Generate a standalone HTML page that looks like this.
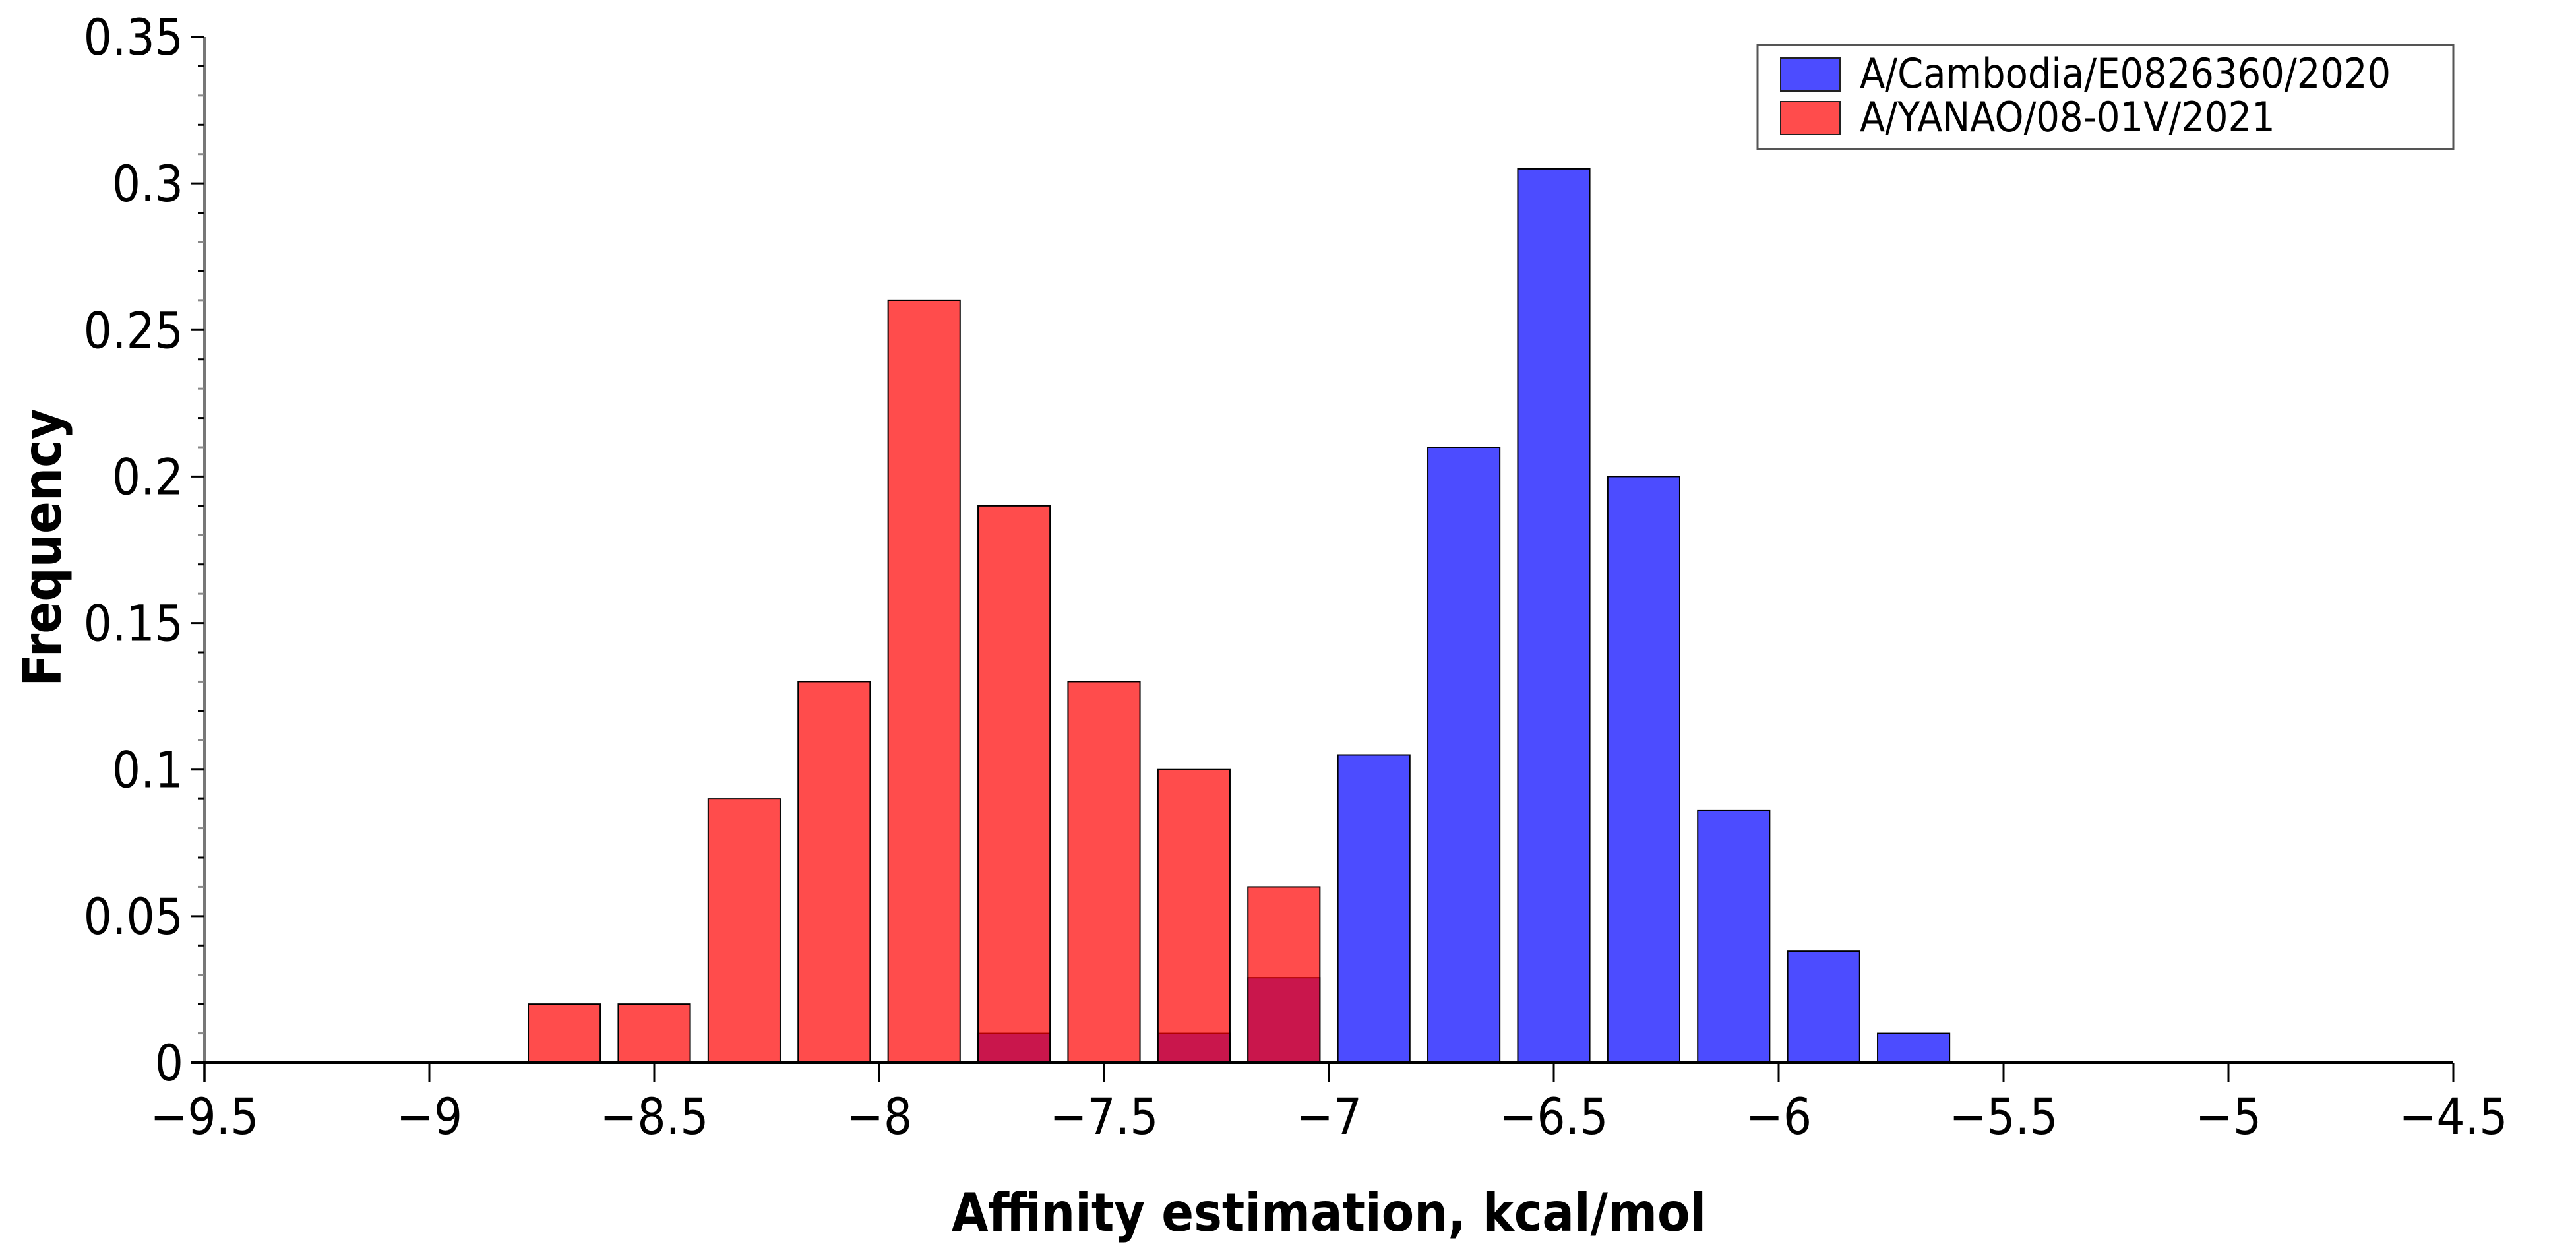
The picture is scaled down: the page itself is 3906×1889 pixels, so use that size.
<!DOCTYPE html>
<html><head><meta charset="utf-8"><style>
html,body{margin:0;padding:0;background:#fff;}
svg{display:block;font-family:"DejaVu Sans","Liberation Sans",sans-serif;}
</style></head><body>
<svg id="chart" width="3906" height="1889" viewBox="0 0 3906 1889" xmlns="http://www.w3.org/2000/svg">
<g id="bars"></g>
<g id="axes"></g>
<g id="legend"></g>
</svg>
<script>
const redCenters = [-8.7,-8.5,-8.3,-8.1,-7.9,-7.7,-7.5,-7.3,-7.1];
const redValues  = [0.02,0.02,0.09,0.13,0.26,0.19,0.13,0.10,0.06];
const blueCenters = [-7.7,-7.3,-7.1,-6.9,-6.7,-6.5,-6.3,-6.1,-5.9,-5.7];
const blueValues  = [0.01,0.01,0.029,0.105,0.21,0.305,0.20,0.086,0.038,0.01];
const xTicks = [-9.5,-9,-8.5,-8,-7.5,-7,-6.5,-6,-5.5,-5,-4.5];
const xTickLabels = ["\u22129.5","\u22129","\u22128.5","\u22128","\u22127.5","\u22127","\u22126.5","\u22126","\u22125.5","\u22125","\u22124.5"];
const yTicks = [0,0.05,0.1,0.15,0.2,0.25,0.3,0.35];
const yTickLabels = ["0","0.05","0.1","0.15","0.2","0.25","0.3","0.35"];
const seriesNames = ["A/Cambodia/E0826360/2020","A/YANAO/08-01V/2021"];

const NS="http://www.w3.org/2000/svg";
const X0=310,X1=3720,Y0=1611,Y1=56;
const xMin=-9.5,xMax=-4.5,yMin=0,yMax=0.35,barW=0.16;
const SY=1.12;
function xs(v){return X0+(v-xMin)/(xMax-xMin)*(X1-X0);}
function ys(v){return Y0-(v-yMin)/(yMax-yMin)*(Y0-Y1);}
function mk(tag,attrs,parent,text){const e=document.createElementNS(NS,tag);for(const k in attrs)e.setAttribute(k,attrs[k]);if(text!==undefined)e.textContent=text;parent.appendChild(e);return e;}
function txt(x,y,attrs,parent,text,extra){attrs.x=0;attrs.y=0;attrs.transform='translate('+x+','+y+')'+(extra||'')+' scale(1,'+SY+')';return mk('text',attrs,parent,text);}
const bars=document.getElementById('bars'),axes=document.getElementById('axes'),legend=document.getElementById('legend');

blueCenters.forEach((c,i)=>{
  const r=mk('rect',{x:xs(c-barW/2),y:ys(blueValues[i]),width:xs(c+barW/2)-xs(c-barW/2),height:ys(0)-ys(blueValues[i]),fill:'rgba(0,0,255,0.7)',stroke:'#000','stroke-width':2},bars);
  
  
});
redCenters.forEach((c,i)=>{
  const r=mk('rect',{x:xs(c-barW/2),y:ys(redValues[i]),width:xs(c+barW/2)-xs(c-barW/2),height:ys(0)-ys(redValues[i]),fill:'rgba(255,0,0,0.7)',stroke:'#000','stroke-width':2},bars);
  
  
});

let l=mk('line',{x1:X0,y1:Y1,x2:X0,y2:Y0+30,stroke:'#777','stroke-width':4},axes);


yTicks.forEach((v,i)=>{
  mk('line',{x1:X0-20,y1:ys(v),x2:X0,y2:ys(v),stroke:'#000','stroke-width':3},axes);
  const t=txt(X0-32,ys(v)+27,{'text-anchor':'end','font-size':68,fill:'#000'},axes,yTickLabels[i]);
  
  
  if(i<yTicks.length-1){
    for(let k=1;k<5;k++){
      const mv=v+k*0.01;
      mk('line',{x1:X0-10,y1:ys(mv),x2:X0,y2:ys(mv),stroke:k%2?'#888':'#000','stroke-width':3},axes);
    }
  }
});
l=mk('line',{x1:X0-20,y1:Y0,x2:X1,y2:Y0,stroke:'#000','stroke-width':4},axes);


xTicks.forEach((v,i)=>{
  mk('line',{x1:xs(v),y1:Y0,x2:xs(v),y2:Y0+30,stroke:'#000','stroke-width':3},axes);
  const t=txt(xs(v),Y0+108,{'text-anchor':'middle','font-size':68,fill:'#000'},axes,xTickLabels[i]);
  
  
});
let t=txt((X0+X1)/2,1866,{'text-anchor':'middle','font-size':72,'font-weight':'bold',fill:'#000'},axes,'Affinity estimation, kcal/mol');


t=mk('text',{x:0,y:0,'text-anchor':'middle','font-size':72,'font-weight':'bold',fill:'#000',transform:'translate(92,830) rotate(-90) scale(1,'+SY+')'},axes,'Frequency');



const lg=mk('rect',{x:2665,y:68,width:1055,height:158,fill:'#fff',stroke:'#555','stroke-width':3},legend);


const cols=['rgba(0,0,255,0.7)','rgba(255,0,0,0.7)'];
seriesNames.forEach((n,i)=>{
  const sw=mk('rect',{x:2700,y:88+i*66,width:90,height:50,fill:cols[i],stroke:'#222','stroke-width':2},legend);
  
  
  const tx=txt(2820,133+i*66,{'font-size':56,fill:'#000'},legend,n);
  
  
});
</script>
</body></html>
